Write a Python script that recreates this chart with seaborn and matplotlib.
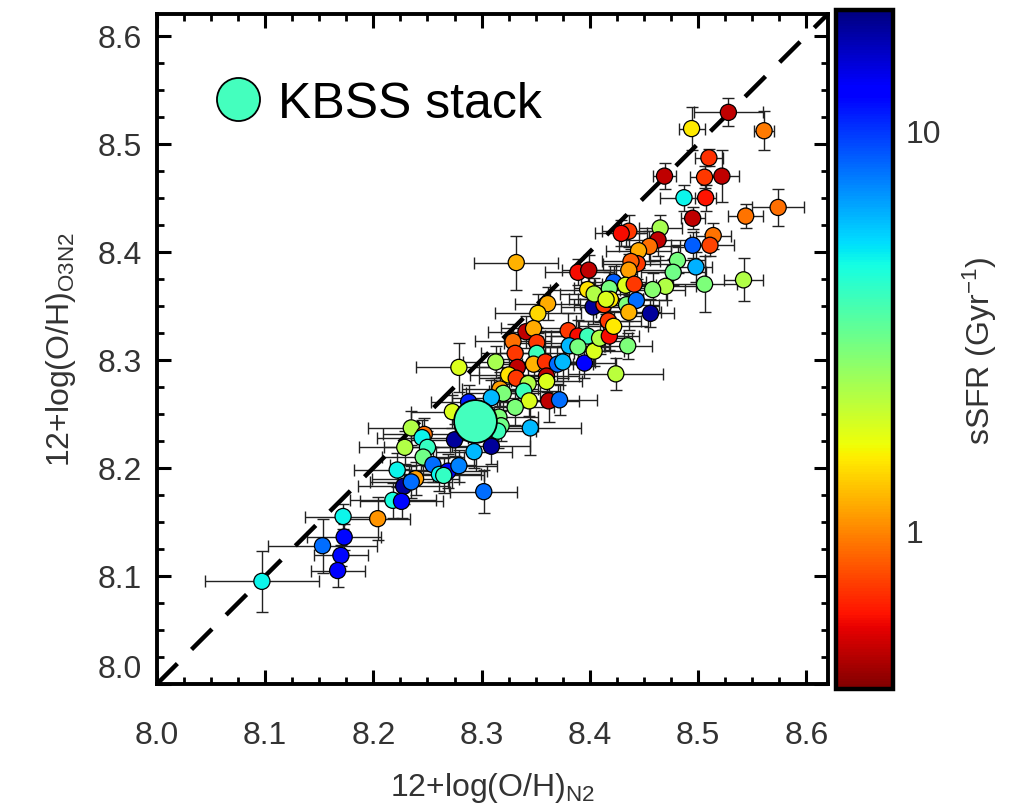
import numpy as np
import pandas as pd
import matplotlib
matplotlib.use("Agg")
import matplotlib.pyplot as plt
from matplotlib.colors import LogNorm
from matplotlib.lines import Line2D
from matplotlib.ticker import MultipleLocator, FixedLocator, NullLocator
import seaborn as sns

# ---------------- data ----------------
oh_n2 = [8.528, 8.494, 8.561, 8.510, 8.469, 8.506, 8.522, 8.487, 8.507, 8.495,
         8.544, 8.574, 8.514, 8.511, 8.495, 8.498, 8.506, 8.542, 8.481, 8.477,
         8.465, 8.436, 8.429, 8.463, 8.455, 8.445, 8.444, 8.438, 8.436, 8.389,
         8.399, 8.422, 8.433, 8.441, 8.398, 8.418, 8.470, 8.458, 8.332, 8.361,
         8.352, 8.341, 8.348, 8.329, 8.331, 8.313, 8.351, 8.351, 8.348, 8.359,
         8.370, 8.375, 8.395, 8.380, 8.389, 8.398, 8.381, 8.389, 8.404, 8.409,
         8.418, 8.417, 8.422, 8.435, 8.424, 8.403, 8.413, 8.404, 8.419, 8.415,
         8.434, 8.443, 8.436, 8.456, 8.333, 8.325, 8.332, 8.343, 8.360, 8.360,
         8.317, 8.320, 8.279, 8.309, 8.339, 8.344, 8.362, 8.372, 8.331, 8.345,
         8.273, 8.288, 8.316, 8.318, 8.315, 8.275, 8.309, 8.293, 8.235, 8.247,
         8.245, 8.250, 8.246, 8.229, 8.255, 8.261, 8.269, 8.279, 8.265, 8.239,
         8.228, 8.302, 8.235, 8.222, 8.218, 8.226, 8.172, 8.204, 8.173, 8.153,
         8.170, 8.167, 8.097]
oh_o3n2 = [8.529, 8.514, 8.512, 8.487, 8.470, 8.469, 8.470, 8.450, 8.450, 8.431,
           8.433, 8.441, 8.415, 8.406, 8.406, 8.386, 8.370, 8.374, 8.392, 8.381,
           8.422, 8.419, 8.417, 8.411, 8.405, 8.401, 8.389, 8.391, 8.383, 8.381,
           8.383, 8.372, 8.369, 8.370, 8.365, 8.366, 8.368, 8.365, 8.390, 8.352,
           8.343, 8.326, 8.329, 8.317, 8.306, 8.298, 8.316, 8.306, 8.296, 8.298,
           8.296, 8.298, 8.297, 8.327, 8.322, 8.322, 8.313, 8.312, 8.308, 8.320,
           8.322, 8.336, 8.331, 8.313, 8.287, 8.349, 8.351, 8.361, 8.356, 8.356,
           8.351, 8.355, 8.344, 8.343, 8.293, 8.286, 8.283, 8.278, 8.285, 8.280,
           8.273, 8.269, 8.293, 8.265, 8.271, 8.262, 8.262, 8.263, 8.256, 8.237,
           8.252, 8.261, 8.247, 8.239, 8.234, 8.226, 8.220, 8.215, 8.237, 8.231,
           8.228, 8.219, 8.210, 8.219, 8.203, 8.194, 8.197, 8.202, 8.193, 8.190,
           8.183, 8.178, 8.187, 8.198, 8.170, 8.169, 8.155, 8.153, 8.136, 8.128,
           8.119, 8.105, 8.095]
err_n2 = [0.032, 0.012, 0.009, 0.013, 0.011, 0.013, 0.016, 0.022, 0.010, 0.011,
          0.016, 0.024, 0.016, 0.022, 0.020, 0.015, 0.030, 0.018, 0.025, 0.030,
          0.020, 0.025, 0.024, 0.030, 0.028, 0.030, 0.032, 0.027, 0.035, 0.030,
          0.025, 0.030, 0.028, 0.030, 0.035, 0.033, 0.028, 0.030, 0.039, 0.030,
          0.040, 0.035, 0.030, 0.035, 0.032, 0.030, 0.030, 0.034, 0.036, 0.030,
          0.033, 0.030, 0.028, 0.032, 0.030, 0.034, 0.033, 0.030, 0.028, 0.030,
          0.027, 0.030, 0.032, 0.022, 0.044, 0.030, 0.028, 0.032, 0.030, 0.034,
          0.030, 0.028, 0.030, 0.022, 0.035, 0.036, 0.034, 0.032, 0.030, 0.033,
          0.035, 0.034, 0.040, 0.036, 0.032, 0.030, 0.028, 0.035, 0.036, 0.047,
          0.038, 0.035, 0.036, 0.034, 0.035, 0.040, 0.036, 0.035, 0.040, 0.038,
          0.042, 0.040, 0.038, 0.042, 0.040, 0.038, 0.036, 0.035, 0.037, 0.040,
          0.042, 0.031, 0.038, 0.040, 0.040, 0.038, 0.035, 0.030, 0.034, 0.050,
          0.025, 0.025, 0.053]
err_o3n2 = [0.013, 0.020, 0.018, 0.008, 0.012, 0.010, 0.024, 0.012, 0.012, 0.010,
            0.011, 0.017, 0.012, 0.010, 0.012, 0.014, 0.026, 0.020, 0.012, 0.012,
            0.012, 0.015, 0.012, 0.015, 0.014, 0.016, 0.014, 0.012, 0.015, 0.012,
            0.014, 0.015, 0.013, 0.014, 0.016, 0.015, 0.013, 0.015, 0.025, 0.015,
            0.018, 0.015, 0.014, 0.016, 0.015, 0.015, 0.014, 0.016, 0.015, 0.014,
            0.016, 0.015, 0.014, 0.016, 0.015, 0.014, 0.015, 0.016, 0.014, 0.015,
            0.013, 0.015, 0.014, 0.012, 0.015, 0.016, 0.014, 0.015, 0.016, 0.014,
            0.015, 0.014, 0.016, 0.013, 0.016, 0.015, 0.014, 0.016, 0.015, 0.014,
            0.016, 0.015, 0.023, 0.016, 0.015, 0.014, 0.020, 0.014, 0.016, 0.025,
            0.015, 0.016, 0.015, 0.014, 0.016, 0.015, 0.016, 0.015, 0.016, 0.015,
            0.016, 0.015, 0.016, 0.015, 0.016, 0.015, 0.016, 0.015, 0.016, 0.015,
            0.016, 0.020, 0.015, 0.016, 0.016, 0.015, 0.012, 0.020, 0.012, 0.025,
            0.010, 0.015, 0.028]
ssfr = [0.50, 1.5, 0.95, 0.70, 0.50, 0.72, 0.50, 4.8, 0.62, 0.50,
        0.92, 0.90, 0.92, 0.75, 8.5, 6.2, 2.8, 2.2, 2.9, 3.0,
        2.3, 0.72, 0.60, 0.50, 0.90, 1.15, 0.72, 0.85, 1.10, 0.60,
        0.50, 8.5, 1.8, 0.72, 1.45, 2.9, 2.2, 2.7, 1.2, 1.15,
        1.4, 0.50, 1.15, 0.90, 0.72, 2.3, 0.72, 3.8, 1.2, 0.70,
        8.0, 6.0, 13.0, 0.72, 0.60, 3.8, 6.0, 2.9, 1.8, 2.2,
        0.60, 0.72, 1.5, 2.8, 2.1, 18.0, 0.72, 2.2, 1.5, 1.8,
        2.8, 8.0, 1.2, 18.0, 0.50, 1.45, 0.72, 2.2, 0.50, 1.8,
        1.1, 2.8, 1.8, 6.0, 3.8, 1.8, 0.50, 8.0, 2.8, 6.0,
        1.8, 11.0, 2.8, 3.0, 3.8, 18.0, 18.0, 6.0, 2.2, 0.90,
        4.8, 3.9, 3.0, 2.2, 8.0, 4.8, 12.0, 7.5, 4.0, 1.1,
        18.0, 8.0, 8.0, 4.8, 4.5, 12.0, 4.8, 1.05, 12.0, 8.0,
        12.0, 13.0, 4.8]

stack_n2 = [8.294]
stack_o3n2 = [8.243]
stack_label = "KBSS stack"
stack_color = "#44FFBE"

ssfr_min, ssfr_max = 0.40, 20.0
x_ticks = [8.0, 8.1, 8.2, 8.3, 8.4, 8.5, 8.6]
y_ticks = [8.0, 8.1, 8.2, 8.3, 8.4, 8.5, 8.6]
cbar_ticks = [1, 10]
cbar_ticklabels = ["1", "10"]

df = pd.DataFrame({"n2": oh_n2, "o3n2": oh_o3n2, "xe": err_n2,
                   "ye": err_o3n2, "ssfr": ssfr})
stack = pd.DataFrame({"n2": stack_n2, "o3n2": stack_o3n2})

# ---------------- style ----------------
sns.set_style("ticks")
plt.rcParams["font.family"] = ["Liberation Sans", "DejaVu Sans"]
plt.rcParams["mathtext.default"] = "regular"
txt_col = "#333333"

fig = plt.figure(figsize=(10.19, 8.12), dpi=100)
ax = fig.add_axes([0.154, 0.1564, 0.6585, 0.8251])
cax = fig.add_axes([0.8204, 0.150, 0.0559, 0.836])

norm = LogNorm(vmin=ssfr_min, vmax=ssfr_max)
cmap = plt.get_cmap("jet_r")

# error bars
ax.errorbar(df["n2"], df["o3n2"], xerr=df["xe"], yerr=df["ye"], fmt="none",
            ecolor="#222222", elinewidth=1.0, capsize=4.5, capthick=1.0,
            zorder=1)

# 1:1 line
ax.plot([8.0, 8.62], [8.0, 8.62], color="black", lw=3.2, dashes=(6.5, 4.5),
        zorder=2)

sns.scatterplot(data=df, x="n2", y="o3n2", hue="ssfr", palette=cmap,
                hue_norm=norm, s=135, edgecolor="black", linewidth=0.9,
                legend=False, ax=ax, zorder=3)

sns.scatterplot(data=stack, x="n2", y="o3n2", color=stack_color, s=950,
                edgecolor="black", linewidth=1.3, legend=False, ax=ax,
                zorder=4)

# legend
handle = Line2D([], [], marker="o", ls="none", markersize=31,
                markerfacecolor=stack_color, markeredgecolor="black",
                markeredgewidth=1.3)
leg = ax.legend([handle], [stack_label], loc="upper left",
                bbox_to_anchor=(0.031, 0.945), frameon=False, fontsize=36,
                handletextpad=0.2, borderaxespad=0.2, handlelength=1.2)
for t in leg.get_texts():
    t.set_color("black")

# axes formatting
ax.set_xlim(8.0, 8.62)
ax.set_ylim(8.0, 8.62)
ax.xaxis.set_major_locator(FixedLocator(x_ticks))
ax.yaxis.set_major_locator(FixedLocator(y_ticks))
ax.xaxis.set_minor_locator(MultipleLocator(0.025))
ax.yaxis.set_minor_locator(MultipleLocator(0.025))
ax.tick_params(which="both", direction="in", top=True, right=True,
               colors="black", labelcolor=txt_col)
ax.tick_params(which="major", length=10, width=2.2, labelsize=23)
ax.tick_params(which="minor", length=5, width=2.0)
ax.tick_params(axis="x", which="major", pad=26)
ax.tick_params(axis="y", which="major", pad=11)
for sp in ax.spines.values():
    sp.set_linewidth(2.8)
    sp.set_color("black")
ax.set_xlabel("12+log(O/H)$_{N2}$", fontsize=23, color=txt_col, labelpad=14)
ax.set_ylabel("12+log(O/H)$_{O3N2}$", fontsize=23, color=txt_col, labelpad=14)
fig.canvas.draw()
ylabs = ax.get_yticklabels()
ylabs[0].set_va("bottom")

# colorbar
sm = matplotlib.cm.ScalarMappable(norm=norm, cmap=cmap)
cb = fig.colorbar(sm, cax=cax)
cb.set_ticks(cbar_ticks)
cb.set_ticklabels(cbar_ticklabels)
cax.yaxis.set_minor_locator(NullLocator())
cax.tick_params(which="both", length=0, labelsize=23, labelcolor=txt_col,
                pad=9)
cb.outline.set_linewidth(3.2)
cb.outline.set_edgecolor("black")
cb.set_label("sSFR (Gyr$^{-1}$)", fontsize=23, color=txt_col, labelpad=14)

fig.savefig("out.png", dpi=100)
